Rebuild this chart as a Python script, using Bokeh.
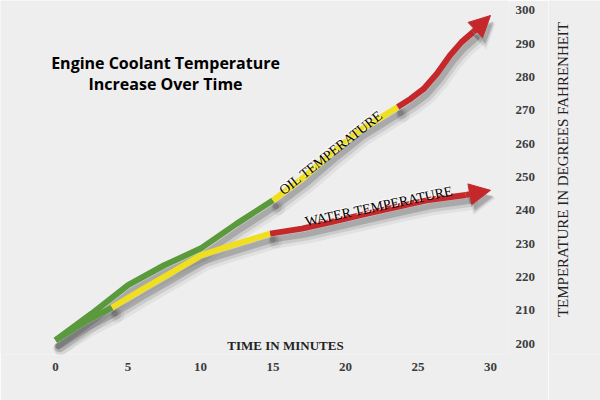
import math
from bokeh.plotting import figure
from bokeh.layouts import row
from bokeh.models import (Range1d, FixedTicker, Label, Arrow, NormalHead)
from bokeh.embed import file_html
from bokeh.resources import INLINE

# ---- data (minutes, degrees F) ----
oil_green_t = [0, 2.5, 5, 7.5, 10, 12.5, 15]
oil_green_T = [201, 209, 217.5, 223.5, 228.5, 236, 243]
oil_yellow_t = [15, 17, 19, 21, 23.6]
oil_yellow_T = [243, 249.5, 257, 264, 271]
oil_red_t = [23.6, 24.5, 25.4, 26.3, 27.2, 28.0, 28.8, 30]
oil_red_T = [271, 273.5, 276.5, 281, 286.5, 290.5, 293.5, 298.5]

water_green_t = [0, 2, 3.9]
water_green_T = [201, 206.5, 210.8]
water_yellow_t = [3.9, 6, 8, 10, 11.5, 13, 14.8]
water_yellow_T = [210.8, 216.3, 221.3, 226.4, 228.6, 230.6, 233]
water_red_t = [14.8, 17, 19, 21.5, 23.5, 25.6, 28.3, 30]
water_red_T = [233, 234.5, 236.5, 239, 241, 243, 244.6, 246]

x_ticks = [0, 5, 10, 15, 20, 25, 30]
y_ticks = [200, 210, 220, 230, 240, 250, 260, 270, 280, 290, 300]

GREEN = "#5a9a3c"
YELLOW = "#efdf1f"
RED = "#c4282a"
BG = "#eeeeee"
SERIF = "Liberation Serif"

X0, X1 = -3.793, 31.241
Y0, Y1 = 196.7, 303.0
p = figure(width=548, height=400, output_backend="svg", toolbar_location=None,
           x_range=Range1d(X0, X1), y_range=Range1d(Y0, Y1),
           y_axis_location="right",
           min_border_left=0, min_border_top=0, min_border_right=40, min_border_bottom=46)
p.background_fill_color = BG
p.border_fill_color = BG
p.outline_line_color = None
p.grid.visible = False

# axes styling
xa = p.xaxis[0]
xa.ticker = FixedTicker(ticks=x_ticks)
ya = p.yaxis[0]
ya.ticker = FixedTicker(ticks=y_ticks)
for ax in (xa, ya):
    ax.axis_line_color = None
    ax.major_tick_line_color = None
    ax.minor_tick_line_color = None
    ax.major_tick_out = 0
    ax.major_tick_in = 0
    ax.minor_tick_out = 0
    ax.major_label_text_font = SERIF
    ax.major_label_text_font_style = "bold"
    ax.major_label_text_font_size = "13px"
    ax.major_label_text_color = "#3c3c3c"
xa.major_label_standoff = 8
ya.major_label_standoff = 7

segments = [
    (oil_green_t, oil_green_T, GREEN),
    (oil_yellow_t, oil_yellow_T, YELLOW),
    (oil_red_t[:-1], oil_red_T[:-1], RED),
    (water_green_t, water_green_T, GREEN),
    (water_yellow_t, water_yellow_T, YELLOW),
    (water_red_t[:-1], water_red_T[:-1], RED),
]
arrows = [(oil_red_t, oil_red_T), (water_red_t, water_red_T)]

# soft drop shadows: same data through shifted ranges (px offset right/down)
shadow_layers = [(5, 8, 14, 0.07), (4, 7, 10, 0.12), (3, 6, 6, 0.22)]
for i, (ox, oy, w, a) in enumerate(shadow_layers):
    xn, yn = f"sx{i}", f"sy{i}"
    p.extra_x_ranges[xn] = Range1d(X0 - ox / 14.5, X1 - ox / 14.5)
    p.extra_y_ranges[yn] = Range1d(Y0 + oy / 3.33, Y1 + oy / 3.33)
    for t, T, _ in segments:
        p.line(t, T, line_width=w, color="#333333", alpha=a, x_range_name=xn, y_range_name=yn,
               line_join="round", line_cap="round")
    for t, T in arrows:
        p.add_layout(Arrow(x_start=t[-2], y_start=T[-2], x_end=t[-1], y_end=T[-1],
                           x_range_name=xn, y_range_name=yn,
                           line_color="#333333", line_alpha=a, line_width=w,
                           end=NormalHead(size=18 + w / 2, fill_color="#333333", fill_alpha=a,
                                          line_color=None)))

# colored lines
for t, T, c in segments:
    p.line(t, T, line_width=6, color=c, line_join="round")
for t, T in arrows:
    p.add_layout(Arrow(x_start=t[-2], y_start=T[-2], x_end=t[-1], y_end=T[-1],
                       line_color=RED, line_width=6,
                       end=NormalHead(size=21, fill_color=RED, line_color=RED, line_width=1)))

# labels on lines (white highlight + black text)
for (lx, ly, txt, ang) in [(19.0, 257.3, "OIL TEMPERATURE", 38), (22.3, 241.2, "WATER TEMPERATURE", 12)]:
    p.add_layout(Label(x=lx, y=ly, text=txt, angle=ang, angle_units="deg",
                       x_offset=-1, y_offset=1,
                       text_font=SERIF, text_font_size="14px", text_color="white",
                       text_align="center", text_baseline="middle"))
    p.add_layout(Label(x=lx, y=ly, text=txt, angle=ang, angle_units="deg",
                       text_font=SERIF, text_font_size="14px", text_color="black",
                       text_align="center", text_baseline="middle"))

# x axis title (sits above the tick labels)
p.add_layout(Label(x=15.86, y=199.4, text="TIME IN MINUTES",
                   text_font=SERIF, text_font_size="13px", text_font_style="bold",
                   text_color="#222222", text_align="center", text_baseline="middle"))

# chart title
p.add_layout(Label(x=7.59, y=284.1, text="Engine Coolant Temperature",
                   text_font="Open Sans", text_font_size="16px", text_font_style="bold",
                   text_color="black", text_align="center", text_baseline="middle"))
p.add_layout(Label(x=7.59, y=278.0, text="Increase Over Time",
                   text_font="Open Sans", text_font_size="16px", text_font_style="bold",
                   text_color="black", text_align="center", text_baseline="middle"))

# right-hand strip holding the rotated y-axis title (reads bottom to top)
q = figure(width=52, height=400, output_backend="svg", toolbar_location=None,
           x_range=Range1d(0, 52), y_range=Range1d(0, 400),
           min_border=0, x_axis_type=None, y_axis_type=None)
q.background_fill_color = BG
q.border_fill_color = BG
q.outline_line_color = None
q.grid.visible = False
q.add_layout(Label(x=14, y=209, text="TEMPERATURE IN DEGREES FAHRENHEIT",
                   angle=90, angle_units="deg",
                   text_font=SERIF, text_font_size="15px", text_color="#222222",
                   text_align="center", text_baseline="middle"))

layout = row(p, q, spacing=0)
open("out.html", "w").write(file_html(layout, INLINE))
